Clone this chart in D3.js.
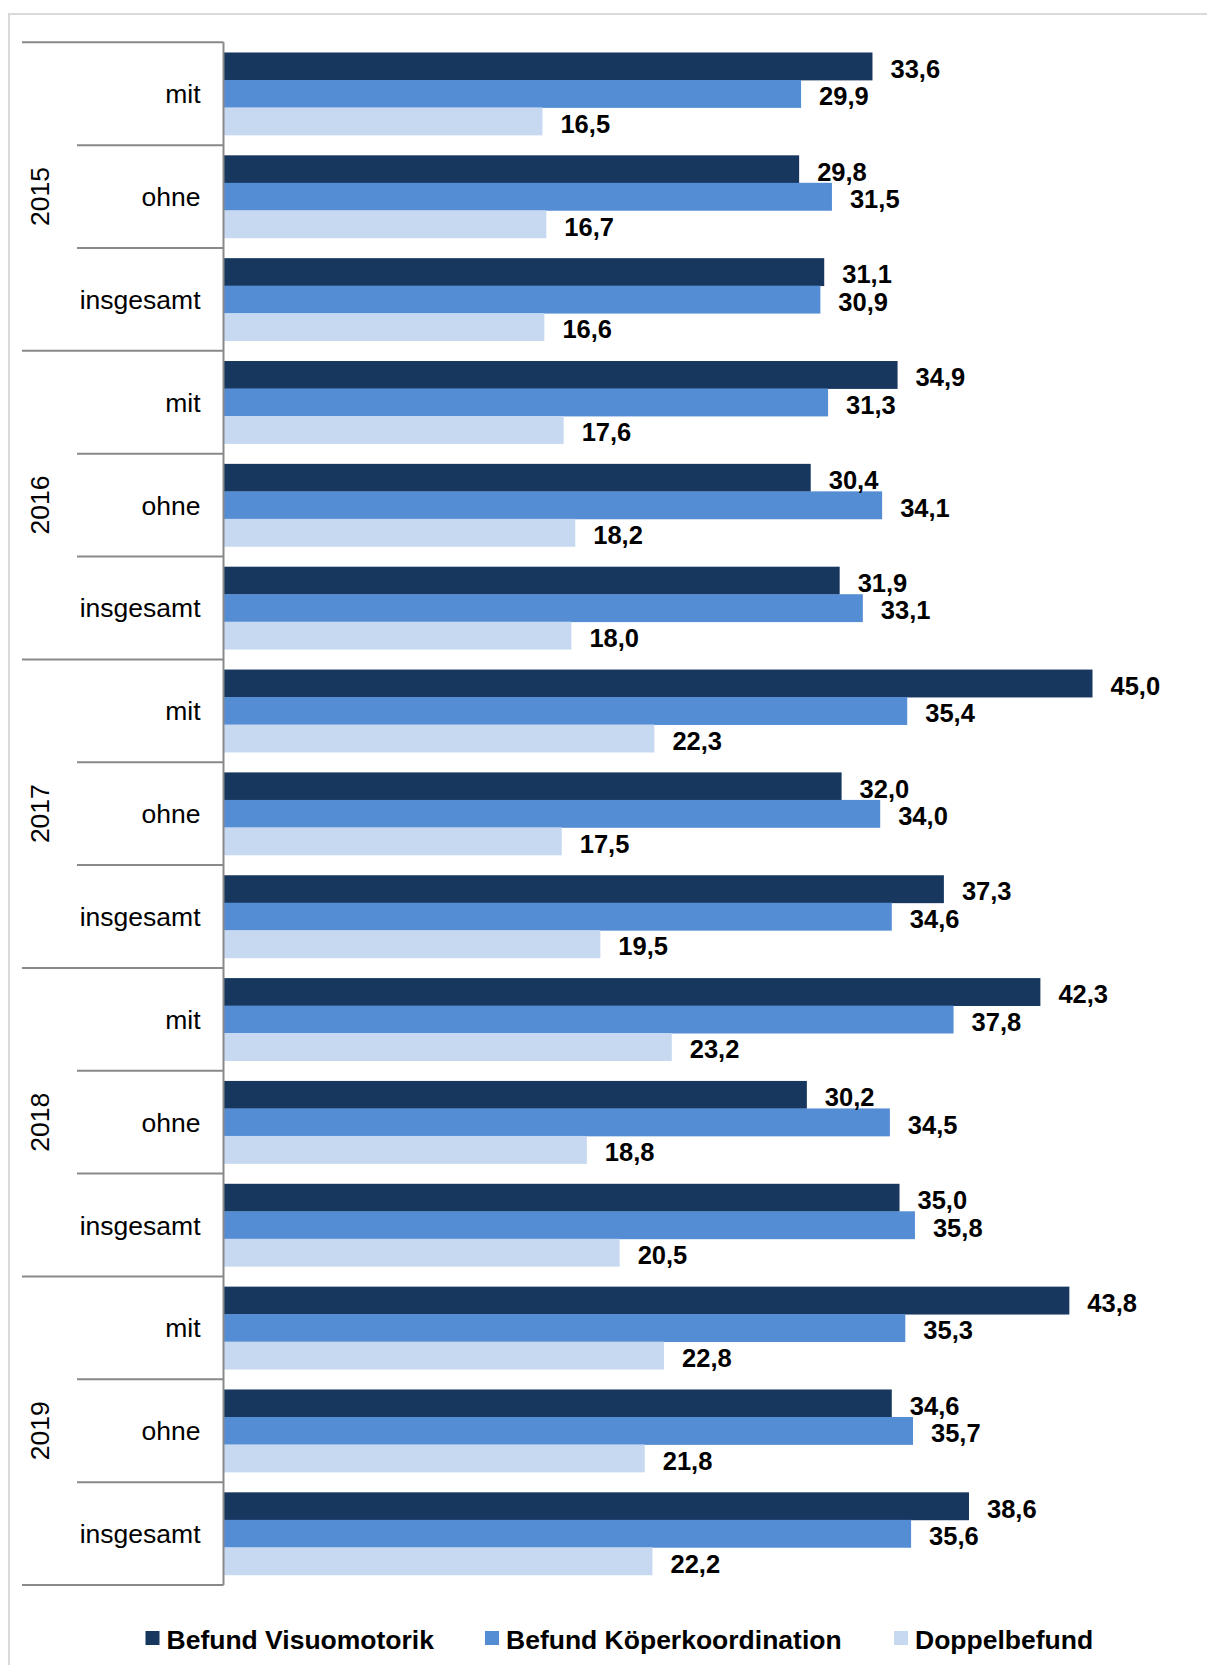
<!DOCTYPE html>
<html>
<head>
<meta charset="utf-8">
<script src="https://cdn.jsdelivr.net/npm/d3@7"></script>
<style>
  html, body { margin: 0; padding: 0; background: #fff; }
  svg { display: block; font-family: "Liberation Sans", Arial, sans-serif; }
</style>
</head>
<body>
<svg id="chart" width="1207" height="1665"></svg>
<script>
// Years and the three sub-groups shown within each year
const years = ["2015", "2016", "2017", "2018", "2019"];
const groups = ["mit", "ohne", "insgesamt"];

// Series names (legend)
const seriesNames = ["Befund Visuomotorik", "Befund Köperkoordination", "Doppelbefund"];
const seriesColors = ["#17375E", "#548DD4", "#C6D9F0"];

// Values per row (year × group), in percent
const visuomotorik = [33.6, 29.8, 31.1, 34.9, 30.4, 31.9, 45.0, 32.0, 37.3, 42.3, 30.2, 35.0, 43.8, 34.6, 38.6];
const koerperkoordination = [29.9, 31.5, 30.9, 31.3, 34.1, 33.1, 35.4, 34.0, 34.6, 37.8, 34.5, 35.8, 35.3, 35.7, 35.6];
const doppelbefund = [16.5, 16.7, 16.6, 17.6, 18.2, 18.0, 22.3, 17.5, 19.5, 23.2, 18.8, 20.5, 22.8, 21.8, 22.2];

const seriesValues = [visuomotorik, koerperkoordination, doppelbefund];

// Rows: one per year/group combination
const rows = [];
years.forEach(y => groups.forEach(g => rows.push({ year: y, group: g })));
rows.forEach((r, i) => { r.index = i; r.values = seriesValues.map(s => s[i]); });

const svg = d3.select("#chart");

// Outer chart frame
svg.append("rect")
  .attr("x", 9).attr("y", 14)
  .attr("width", 1260).attr("height", 1720)
  .attr("fill", "none")
  .attr("stroke", "#D9D9D9")
  .attr("stroke-width", 2);

const axisX = 223.5;
const plotTop = 42.3, plotBottom = 1585;

const x = d3.scaleLinear().domain([0, 50]).range([224, 224 + 965]);
const yRow = d3.scaleBand().domain(rows.map(r => r.index)).range([plotTop, plotBottom]).padding(0);
const ySeries = d3.scaleBand().domain([0, 1, 2]).range([0, yRow.bandwidth()])
  .paddingInner(0).paddingOuter(0.37);

// Bars
const rowG = svg.append("g").selectAll("g.row").data(rows).join("g")
  .attr("class", "row")
  .attr("transform", d => `translate(0,${yRow(d.index)})`);

rowG.selectAll("rect").data(d => d.values.map((v, k) => ({ v, k }))).join("rect")
  .attr("x", x(0))
  .attr("y", d => ySeries(d.k))
  .attr("width", d => x(d.v) - x(0))
  .attr("height", ySeries.bandwidth() + 0.4)
  .attr("fill", d => seriesColors[d.k]);

// Value labels
const fmt = v => d3.format(".1f")(v).replace(".", ",");
rowG.selectAll("text.val").data(d => d.values.map((v, k) => ({ v, k }))).join("text")
  .attr("class", "val")
  .attr("x", d => x(d.v) + 18)
  .attr("y", d => ySeries(d.k) + ySeries.bandwidth() / 2 + 2.5)
  .attr("dominant-baseline", "central")
  .attr("font-size", 25.5)
  .attr("font-weight", "bold")
  .attr("fill", "#000")
  .text(d => fmt(d.v));

// Category axis: vertical line and separators
const axisG = svg.append("g").attr("stroke", "#898989").attr("stroke-width", 2);
axisG.append("line")
  .attr("x1", axisX).attr("x2", axisX)
  .attr("y1", plotTop).attr("y2", plotBottom);

d3.range(rows.length + 1).forEach(i => {
  const yy = i < rows.length ? yRow(i) : plotBottom;
  const isYear = i % groups.length === 0;
  axisG.append("line")
    .attr("x1", isYear ? 22 : 77).attr("x2", axisX)
    .attr("y1", yy).attr("y2", yy);
});

// Group labels
svg.append("g").selectAll("text").data(rows).join("text")
  .attr("x", 200.5)
  .attr("y", d => yRow(d.index) + yRow.bandwidth() / 2 + 0.5)
  .attr("dominant-baseline", "central")
  .attr("text-anchor", "end")
  .attr("font-size", 26.5)
  .attr("fill", "#000")
  .text(d => d.group);

// Year labels (rotated)
svg.append("g").selectAll("text").data(years).join("text")
  .attr("transform", (d, i) => {
    const y0 = yRow(i * groups.length);
    const y1 = yRow(i * groups.length + groups.length - 1) + yRow.bandwidth();
    return `translate(39.5,${(y0 + y1) / 2}) rotate(-90)`;
  })
  .attr("text-anchor", "middle")
  .attr("dominant-baseline", "central")
  .attr("font-size", 26.5)
  .attr("fill", "#000")
  .text(d => d);

// Legend
const legendX = [145.5, 485, 894];
const legendY = 1638;
const leg = svg.append("g").selectAll("g").data(seriesNames).join("g")
  .attr("transform", (d, i) => `translate(${legendX[i]},${legendY})`);
leg.append("rect")
  .attr("x", 0).attr("y", -7)
  .attr("width", 14).attr("height", 14)
  .attr("fill", (d, i) => seriesColors[i]);
leg.append("text")
  .attr("x", 21).attr("y", 1.5)
  .attr("dominant-baseline", "central")
  .attr("font-size", 26.5)
  .attr("font-weight", "bold")
  .attr("fill", "#000")
  .text(d => d);
</script>
</body>
</html>
